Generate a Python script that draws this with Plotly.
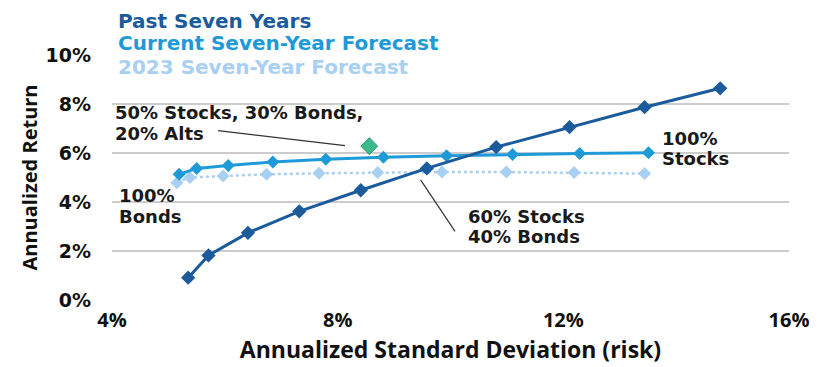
import plotly.graph_objects as go

# Risk (annualized std dev, %) and return (%) for each stock/bond mix
series_names = ["Past Seven Years", "Current Seven-Year Forecast", "2023 Seven-Year Forecast"]
series_colors = ["#1b5b9c", "#1e9ad8", "#a9cff2"]

past_risk = [5.35, 5.71, 6.41, 7.32, 8.41, 9.58, 10.81, 12.11, 13.44, 14.78]
past_return = [0.91, 1.82, 2.74, 3.62, 4.48, 5.37, 6.24, 7.06, 7.87, 8.64]

current_risk = [5.19, 5.50, 6.06, 6.85, 7.79, 8.81, 9.93, 11.10, 12.29, 13.51]
current_return = [5.13, 5.37, 5.49, 5.63, 5.74, 5.83, 5.89, 5.94, 5.98, 6.01]

prior_risk = [5.15, 5.38, 5.97, 6.74, 7.67, 8.71, 9.85, 10.99, 12.19, 13.44]
prior_return = [4.79, 5.00, 5.06, 5.13, 5.17, 5.20, 5.22, 5.22, 5.20, 5.16]

alts_risk = [8.56]
alts_return = [6.28]

x_ticks = [4, 8, 12, 16]
x_tick_labels = ["4%", "8%", "12%", "16%"]
y_ticks = [0, 2, 4, 6, 8, 10]
y_tick_labels = ["0%", "2%", "4%", "6%", "8%", "10%"]

WIDE = "DejaVu Sans"
HUMANIST = "Open Sans"

fig = go.Figure()

fig.add_trace(go.Scatter(
    x=prior_risk, y=prior_return, name=series_names[2], mode="lines+markers",
    line=dict(color=series_colors[2], width=2.5, dash="dot"),
    marker=dict(symbol="diamond", size=10, color=series_colors[2]),
))
fig.add_trace(go.Scatter(
    x=current_risk, y=current_return, name=series_names[1], mode="lines+markers",
    line=dict(color=series_colors[1], width=3),
    marker=dict(symbol="diamond", size=10, color=series_colors[1]),
))
fig.add_trace(go.Scatter(
    x=past_risk, y=past_return, name=series_names[0], mode="lines+markers",
    line=dict(color=series_colors[0], width=3),
    marker=dict(symbol="diamond", size=11, color=series_colors[0]),
))
fig.add_trace(go.Scatter(
    x=alts_risk, y=alts_return, name="50/30/20", mode="markers",
    marker=dict(symbol="diamond", size=13, color="#3dba8c",
                line=dict(color="#2a9a70", width=1)),
))

# Series names as a coloured text block at top left
legend_y = [1.138, 1.049, 0.950]
for name, color, ly in zip(series_names, series_colors, legend_y):
    fig.add_annotation(
        xref="paper", yref="paper", x=0.0, y=ly,
        yanchor="middle", xanchor="left", showarrow=False, xshift=4,
        text=f"<b>{name}</b>", font=dict(family=WIDE, size=20, color=color),
    )

# Callout labels, one annotation per text line
label_font = dict(family=WIDE, size=18, color="#1a1a1a")
label_lines = [
    (4.02, 7.66, "50% Stocks, 30% Bonds,"),
    (4.02, 6.80, "20% Alts"),
    (4.08, 4.25, "100%"),
    (4.08, 3.39, "Bonds"),
    (13.72, 6.59, "100%"),
    (13.72, 5.76, "Stocks"),
    (10.27, 3.40, "60% Stocks"),
    (10.27, 2.59, "40% Bonds"),
]
for x, y, t in label_lines:
    fig.add_annotation(x=x, y=y, text=f"<b>{t}</b>", showarrow=False, xanchor="left",
                       yanchor="middle", align="left", font=label_font)

# Leader lines
fig.add_shape(type="line", x0=5.88, y0=6.91, x1=8.13, y1=6.30,
              line=dict(color="#333333", width=1.2))
fig.add_shape(type="line", x0=9.47, y0=4.90, x1=10.08, y1=2.80,
              line=dict(color="#333333", width=1.2))

fig.update_layout(
    width=824, height=367,
    margin=dict(l=112, r=35, t=55, b=65),
    paper_bgcolor="white", plot_bgcolor="white",
    showlegend=False,
    xaxis=dict(
        range=[4, 16], tickvals=x_ticks, ticktext=x_tick_labels,
        showgrid=False, zeroline=False, showline=False,
        tickfont=dict(family=HUMANIST, size=20, color="#111111", weight="bold"),
        ticklabelstandoff=6,
        title=dict(text="<b>Annualized Standard Deviation (risk)</b>",
                   font=dict(family=HUMANIST, size=23, color="#111111"), standoff=6),
    ),
    yaxis=dict(
        range=[0, 10], tickvals=y_ticks, ticktext=y_tick_labels,
        showgrid=True, gridcolor="#cccccc", gridwidth=1.5,
        zeroline=False, showline=False,
        tickfont=dict(family=WIDE, size=19, color="#111111", weight="bold"),
        ticklabelstandoff=20,
        title=dict(text="<b>Annualized Return</b>",
                   font=dict(family=HUMANIST, size=20, color="#111111"), standoff=2),
    ),
)

fig.write_html("out.html")
